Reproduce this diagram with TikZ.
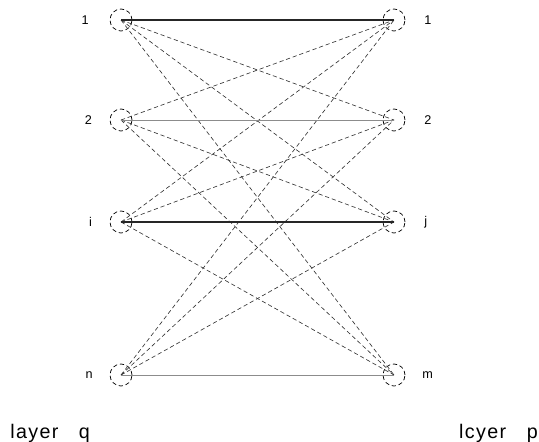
\documentclass[tikz,border=0pt]{standalone}
\usepackage{fontspec}
\setmainfont{Liberation Sans}
\usetikzlibrary{positioning}

\begin{document}
\begin{tikzpicture}[x=0.025cm, y=-0.025cm, every node/.style={font=\small},
    unit/.style={circle, draw, densely dashed, line width=0.5pt,
    minimum size=0.55cm, inner sep=0pt},
    cross/.style={densely dashed, line width=0.45pt, black!80},
    strong/.style={line width=1.1pt, black!85},
    weak/.style={line width=0.6pt, black!45},
    layername/.style={inner xsep=0pt,
    font=\fontsize{14}{16}\selectfont\addfontfeature{LetterSpace=7}}]
  \useasboundingbox (0,0) rectangle (539,441);
  % layer q
  \node (q1) [unit, label={[label distance=0.4cm]left:1}] at (121,20)  {};
  \node (q2) [unit, label={[label distance=0.32cm]left:2}] at (121,120) {};
  \node (qi) [unit, label={[label distance=0.32cm]left:i}] at (121,222) {};
  \node (qn) [unit, label={[label distance=0.3cm]left:n}]  at (121,375) {};
  % layer p
  \node (p1) [unit, label={[label distance=0.35cm]right:1}] at (394,20)  {};
  \node (p2) [unit, label={[label distance=0.35cm]right:2}] at (394,120) {};
  \node (pj) [unit, label={[label distance=0.35cm]right:j}] at (394,222) {};
  \node (pm) [unit, label={[label distance=0.3cm]right:m}]  at (394,375) {};
  \node (lq) [layername, anchor=west] at (10,433)  {layer\ \ \ q};
  \node (lp) [layername, anchor=east] at (538,433) {lcyer\ \ \ p};
  \foreach \a/\b in {q1/p2,q1/pj,q1/pm,q2/p1,q2/pj,q2/pm,
                     qi/p1,qi/p2,qi/pm,qn/p1,qn/p2,qn/pj}
    \draw[cross] (\a.center) -- (\b.center);
  \draw[strong] (q1.center) -- (p1.center);
  \draw[weak]   (q2.center) -- (p2.center);
  \draw[strong] (qi.center) -- (pj.center);
  \draw[weak]   (qn.center) -- (pm.center);
\end{tikzpicture}
\end{document}
